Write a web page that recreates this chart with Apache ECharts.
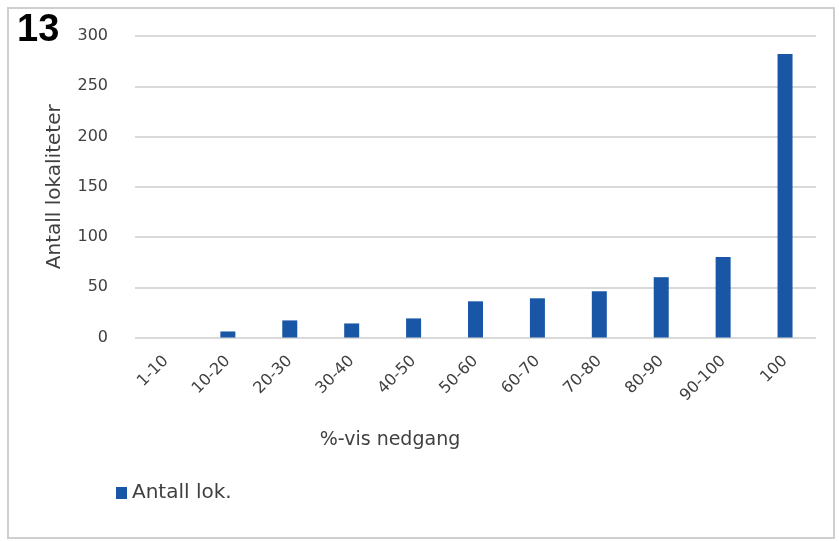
<!DOCTYPE html>
<html>
<head>
<meta charset="utf-8">
<script src="https://cdn.jsdelivr.net/npm/echarts@6/dist/echarts.min.js"></script>
<style>
  html, body { margin: 0; padding: 0; background: #ffffff; }
  #chart { width: 839px; height: 541px; }
</style>
</head>
<body>
<div id="chart"></div>
<script>
// Categories: percentage decline bands
const categories = ['1-10', '10-20', '20-30', '30-40', '40-50', '50-60', '60-70', '70-80', '80-90', '90-100', '100'];
// Number of localities per band
const antallLok = [0, 6, 17, 14, 19, 36, 39, 46, 60, 80, 282];
// Value axis ticks
const yTicks = { min: 0, max: 300, interval: 50 };

const textColor = '#404040';
const fontFamily = '"DejaVu Sans", "Liberation Sans", sans-serif';

const chart = echarts.init(document.getElementById('chart'), null, { renderer: 'canvas' });

chart.setOption({
  backgroundColor: '#ffffff',
  animation: false,
  textStyle: { fontFamily: fontFamily },
  grid: { left: 135, right: 23, top: 36, bottom: 203.5, containLabel: false },
  graphic: [
    {
      type: 'rect',
      shape: { x: 8, y: 8, width: 826, height: 530 },
      style: { fill: 'none', stroke: '#cfcfcf', lineWidth: 2 },
      silent: true
    },
    {
      type: 'text',
      left: 17, top: 12,
      style: { text: '13', fill: '#000000', font: 'bold 38px "Liberation Sans", Arial, sans-serif' }
    },
    {
      type: 'text',
      x: 390, y: 440,
      style: {
        text: '%-vis nedgang', fill: textColor,
        font: '19px "DejaVu Sans", "Liberation Sans", sans-serif',
        align: 'center', verticalAlign: 'middle'
      }
    }
  ],
  legend: {
    show: true,
    left: 111, top: 478,
    icon: 'rect',
    itemWidth: 11, itemHeight: 12,
    itemGap: 6,
    textStyle: { color: textColor, fontSize: 20, fontFamily: fontFamily, padding: [0, 0, 0, 0] },
    data: ['Antall lok.']
  },
  xAxis: {
    type: 'category',
    data: categories,
    boundaryGap: true,
    axisLine: { show: false },
    axisTick: { show: false },
    axisLabel: {
      rotate: 45,
      margin: 21,
      color: textColor,
      fontSize: 16,
      fontFamily: fontFamily,
      interval: 0
    }
  },
  yAxis: {
    type: 'value',
    min: yTicks.min, max: yTicks.max, interval: yTicks.interval,
    name: 'Antall lokaliteter',
    nameLocation: 'middle',
    nameGap: 70,
    nameRotate: 90,
    nameTextStyle: { color: textColor, fontSize: 20, fontFamily: fontFamily },
    axisLine: { show: false },
    axisTick: { show: false },
    axisLabel: { color: textColor, fontSize: 16, fontFamily: fontFamily, margin: 27 },
    splitLine: { lineStyle: { color: '#cccccc', width: 1.5 } }
  },
  series: [
    {
      name: 'Antall lok.',
      type: 'bar',
      data: antallLok,
      barWidth: 15,
      itemStyle: { color: '#1a56a6' }
    }
  ]
});
</script>
</body>
</html>
